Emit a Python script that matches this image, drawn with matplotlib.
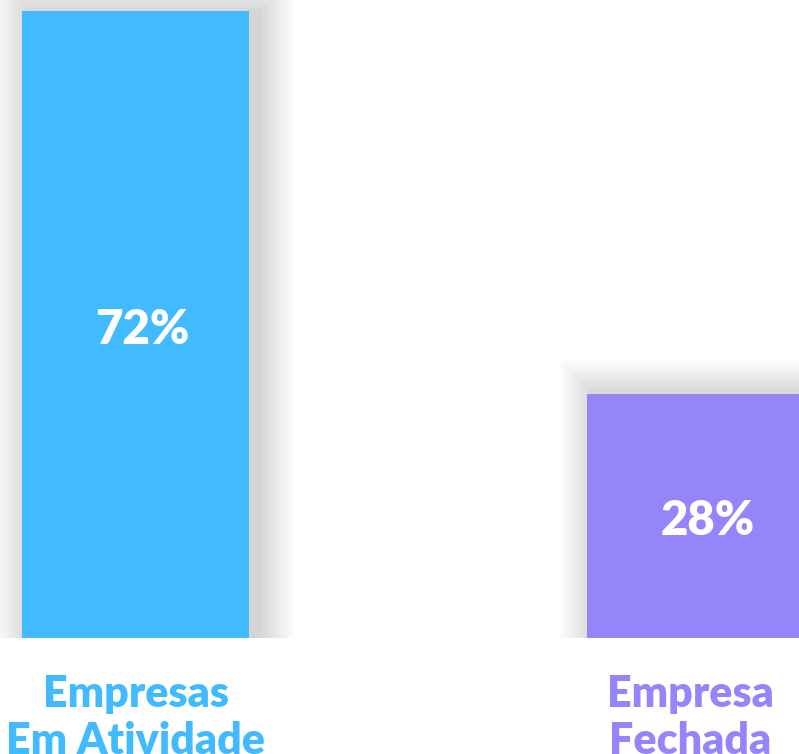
import matplotlib
matplotlib.use("Agg")
import matplotlib.pyplot as plt
from matplotlib.patches import Rectangle

# ── Data ──────────────────────────────────────────────────────────────────────
categories = ["Empresas\nEm Atividade", "Empresa\nFechada"]
values = [72, 28]
value_labels = ["72%", "28%"]
colours = ["#42BAFF", "#9486FA"]

# ── Layout (pixels -> data) ───────────────────────────────────────────────────
W, H, DPI = 799, 754, 100
AX_BOTTOM_PX = 116          # axes bottom from figure bottom
AX_H_PX = H - AX_BOTTOM_PX
PX_PER_X = 565.0            # distance between bar centres
YTOP = 72 * AX_H_PX / 627.0
PX_PER_Y = AX_H_PX / YTOP
BAR_W = 227 / PX_PER_X

fig = plt.figure(figsize=(W / DPI, H / DPI), dpi=DPI)
ax = fig.add_axes([0, AX_BOTTOM_PX / H, 1, AX_H_PX / H])
ax.set_xlim(-135.5 / PX_PER_X, 1 + (W - 700.5) / PX_PER_X)
ax.set_ylim(0, YTOP)
ax.axis("off")

x = list(range(len(values)))

# soft drop shadow: stacked translucent rectangles, shifted right
for xi, v in zip(x, values):
    n = 14
    for k in range(n):
        grow = 2.6 * (k + 1)                      # px
        dx = 9                                     # px shift to the right
        left = xi - BAR_W / 2 + (dx - grow) / PX_PER_X
        width = BAR_W + 2 * grow / PX_PER_X
        height = v + (grow - 2) / PX_PER_Y
        ax.add_patch(Rectangle((left, 0), width, height, facecolor="black",
                               edgecolor="none", alpha=0.012, zorder=1))

bars = ax.bar(x, values, width=BAR_W, color=colours, zorder=3)

for xi, v, lab in zip(x, values, value_labels):
    ax.text(xi + 7 / PX_PER_X, v / 2 - 5 / PX_PER_Y, lab, ha="center", va="center",
            color="white", fontsize=34, fontweight="heavy", family="Lato", zorder=4)

label_dx = [0, -10 / PX_PER_X]
for xi, cat, c, d in zip(x, categories, colours, label_dx):
    ax.text(xi + d, -36 / PX_PER_Y, cat, ha="center", va="top", color=c,
            fontsize=31, fontweight="heavy", family="Lato", linespacing=1.22,
            clip_on=False)

fig.savefig("out.png", dpi=DPI)
